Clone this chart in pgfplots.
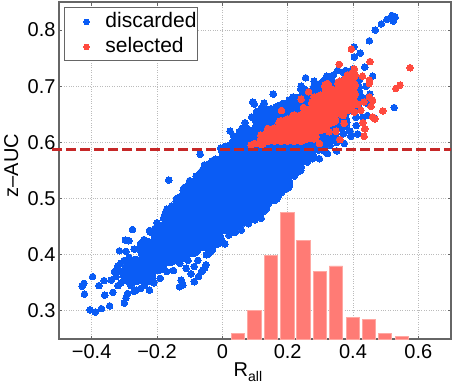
\documentclass[border=0pt]{standalone}
\usepackage{pgfplots}
\pgfplotsset{compat=1.18}
\usepackage{fontspec}
\setmainfont{Liberation Sans}
\definecolor{bluept}{HTML}{0A5CF5}
\definecolor{redpt}{HTML}{FF4A3F}
\definecolor{axgray}{HTML}{666666}
\definecolor{gridgray}{HTML}{BBBBBB}
\definecolor{thr}{HTML}{C62828}
\definecolor{barfill}{HTML}{FF7B75}
\definecolor{baredge}{HTML}{FFA8A2}
\begin{document}
\begin{tikzpicture}
\path[use as bounding box] (0,0) rectangle (454pt,391pt);
\begin{axis}[
  at={(59pt,52pt)}, anchor=south west,
  scale only axis, width=392pt, height=337pt,
  xmin=-0.5, xmax=0.7, ymin=0.25, ymax=0.85,
  xtick={-0.4,-0.2,0,0.2,0.4,0.6},
  xticklabels={−0.4,−0.2,0,0.2,0.4,0.6},
  ytick={0.3,0.4,0.5,0.6,0.7,0.8},
  yticklabels={0.3,0.4,0.5,0.6,0.7,0.8},
  tick label style={font=\fontsize{20}{22}\selectfont, text=black},
  xticklabel style={yshift=-2pt},
  grid=major,
  grid style={gridgray, dotted, line width=0.9pt},
  axis line style={axgray, line width=1.1pt},
  tick style={axgray, line width=0.9pt},
  tick align=inside, major tick length=3.5pt,
  xlabel={R\raisebox{-5pt}{\fontsize{14}{14}\selectfont all}},
  ylabel={z–AUC},
  label style={font=\fontsize{20}{22}\selectfont},
  xlabel style={at={(axis description cs:0.482,-0.098)},anchor=center},
  ylabel style={at={(axis description cs:-0.122,0.515)},anchor=center},
  legend image code/.code={\path[draw=none,fill=none] (0pt,-5pt) rectangle (40pt,5pt); \draw[#1] plot coordinates {(22pt,0pt)};},
  legend style={at={(axis description cs:0.0128,0.984)},anchor=north west,
    draw=axgray, line width=0.9pt, font=\fontsize{21}{23}\selectfont,
    inner xsep=0pt, inner ysep=1.5pt, row sep=0pt, cells={anchor=west},
    nodes={inner xsep=1pt, inner ysep=1pt, text height=17.5pt, text depth=5.5pt}},
]
\addlegendimage{only marks, color=bluept, mark=*, mark size=2.8pt, mark options={solid, draw=bluept, fill=bluept, line width=0pt}}
\addlegendentry{discarded\hspace{4pt}}
\addlegendimage{only marks, color=redpt, mark=*, mark size=2.8pt, mark options={solid, draw=redpt, fill=redpt, line width=0pt}}
\addlegendentry{selected}
% blue: dense core
\addplot[forget plot, only marks, color=bluept, mark=*, mark size=8.5pt, mark options={draw=bluept, fill=bluept, line width=0pt}] coordinates {
(-.285,.362)(-.285,.37)
(-.265,.362)(-.265,.382)
(-.23,.362)(-.23,.382)(-.23,.402)(-.23,.414)
(-.195,.382)(-.195,.402)(-.195,.422)(-.195,.44)
(-.16,.396)(-.16,.416)(-.16,.436)(-.16,.456)(-.16,.47)
(-.125,.402)(-.125,.422)(-.125,.442)(-.125,.462)(-.125,.482)(-.125,.494)
(-.09,.412)(-.09,.432)(-.09,.452)(-.09,.472)(-.09,.492)(-.09,.512)(-.09,.52)
(-.055,.422)(-.055,.442)(-.055,.462)(-.055,.482)(-.055,.502)(-.055,.522)(-.055,.54)
(-.02,.428)(-.02,.448)(-.02,.468)(-.02,.488)(-.02,.508)(-.02,.528)(-.02,.548)(-.02,.56)
(.015,.452)(.015,.472)(.015,.492)(.015,.512)(.015,.532)(.015,.552)(.015,.572)(.015,.584)
(.05,.462)(.05,.482)(.05,.502)(.05,.522)(.05,.542)(.05,.562)(.05,.582)(.05,.60)
(.085,.472)(.085,.492)(.085,.512)(.085,.532)(.085,.552)(.085,.572)(.085,.592)(.085,.612)
(.12,.486)(.12,.506)(.12,.526)(.12,.546)(.12,.566)(.12,.586)(.12,.606)(.12,.63)
(.155,.506)(.155,.526)(.155,.546)(.155,.566)(.155,.586)(.155,.606)(.155,.626)(.155,.648)
(.19,.526)(.19,.546)(.19,.566)(.19,.586)(.19,.606)(.19,.626)(.19,.646)(.19,.66)
(.225,.556)(.225,.576)(.225,.596)(.225,.616)(.225,.636)(.225,.656)(.225,.67)
(.26,.58)(.26,.60)(.26,.62)(.26,.64)(.26,.66)(.26,.682)
(.295,.596)(.295,.616)(.295,.636)(.295,.656)(.295,.676)(.295,.69)
(.33,.616)(.33,.636)(.33,.656)(.33,.676)(.33,.70)
(.365,.636)(.365,.656)(.365,.676)(.365,.70)
(.40,.666)(.40,.68)(.40,.70)
};
% blue: edge and outlying points
\addplot[forget plot, only marks, color=bluept, mark=*, mark size=3.3pt, mark options={draw=bluept, fill=bluept, line width=0pt}] coordinates {
(-.429,.344)(-.424,.349)(-.422,.33)(-.397,.361)(-.405,.302)(-.389,.298)(-.37,.304)(-.345,.309)
(-.36,.328)(-.378,.345)(-.362,.354)(-.33,.37)(-.325,.361)(-.335,.333)(-.30,.314)(-.295,.323)
(-.29,.331)(-.315,.407)(-.297,.426)(-.286,.425)(-.275,.445)(-.295,.406)(-.31,.385)(-.223,.337)
(-.264,.337)(-.164,.533)(-.17,.481)(-.068,.579)(-.223,.443)(-.131,.343)(-.121,.346)(-.126,.355)
(-.111,.376)(-.086,.379)(-.096,.366)(-.086,.352)(-.073,.361)(-.06,.373)(-.05,.382)(-.043,.401)
(-.03,.409)(-.116,.52)(-.055,.56)(.008,.419)(-.34,.355)(-.32,.345)(-.31,.35)(-.24,.345)
(-.054,.376)(-.064,.37)(-.049,.40)(-.034,.406)(.007,.42)(.058,.444)(.099,.462)(.119,.465)(.114,.471)
(.024,.62)(.034,.612)(.052,.619)(.077,.625)(.093,.672)(.098,.668)(.128,.670)(.12,.662)(.156,.686)
(.217,.681)(.241,.70)(.24,.695)(.255,.715)(.281,.709)(.319,.718)(.353,.728)(.334,.718)(.403,.77)
(.404,.752)(.422,.759)(.436,.734)(.46,.718)(.45,.781)(.468,.80)(.487,.811)(.504,.819)(.519,.826)
(.529,.823)(.523,.816)(.526,.662)(.452,.686)(.444,.648)(.465,.644)(.414,.615)(.393,.611)(.373,.598)
(.35,.585)(.322,.58)(.276,.571)(.297,.571)(.44,.675)(.424,.657)(.409,.645)(.419,.699)(.144,.657)
(.185,.663)(.205,.675)(.266,.687)(.30,.705)(.378,.728)(.399,.731)(.419,.711)(.444,.669)(.103,.63)
(-.32,.38)(-.31,.37)(-.30,.36)(-.30,.39)(-.285,.395)(-.27,.41)(-.25,.42)(-.255,.41)(-.28,.345)
(-.27,.335)(-.25,.34)(-.21,.35)(-.19,.358)(-.17,.37)(-.15,.372)(-.13,.385)(-.105,.39)(-.075,.39)
(-.24,.427)(-.22,.44)(-.20,.457)(-.18,.465)(-.155,.487)(-.14,.50)(-.12,.515)(-.10,.532)(-.08,.54)
(-.06,.552)(-.04,.562)(-.02,.57)(0,.58)(.01,.59)(-.005,.59)(.03,.60)(.06,.615)(.08,.62)(.1,.64)
(.11,.65)(.13,.65)(.15,.66)(.17,.665)(.195,.67)(.23,.68)(.25,.695)(.28,.70)(.31,.71)(.34,.72)(.37,.725)
(.14,.49)(.16,.50)(.18,.51)(.2,.525)(.22,.54)(.24,.55)(.26,.565)(.28,.575)(.31,.585)(.33,.595)(.35,.60)
(.37,.615)(.39,.62)(.41,.63)(.43,.645)(.43,.68)(.42,.69)(.44,.70)(.02,.435)(.04,.44)(.08,.455)
(.07,.635)(.09,.645)(.105,.655)(.135,.66)(.06,.625)(.2,.668)(.123,.652)(.164,.663)
};
% red: dense core
\addplot[forget plot, only marks, color=redpt, mark=*, mark size=5.5pt, mark options={draw=redpt, fill=redpt, line width=0pt}] coordinates {
(.12,.60)(.14,.606)(.14,.615)(.16,.606)(.16,.622)
(.18,.606)(.18,.622)(.18,.635)(.20,.606)(.20,.622)(.20,.638)
(.22,.606)(.22,.622)(.22,.638)(.22,.645)(.24,.606)(.24,.622)(.24,.638)(.24,.645)
(.26,.61)(.26,.626)(.26,.642)(.26,.655)(.28,.61)(.28,.626)(.28,.642)(.28,.658)(.28,.67)
(.30,.625)(.30,.641)(.30,.657)(.30,.673)(.30,.68)(.32,.635)(.32,.651)(.32,.667)(.32,.683)(.32,.70)
(.34,.64)(.34,.656)(.34,.672)(.34,.69)(.36,.655)(.36,.671)(.36,.687)(.36,.705)
(.38,.66)(.38,.676)(.38,.692)(.38,.71)(.40,.67)(.40,.686)(.40,.702)(.40,.72)
};
% red: edge and outlying points
\addplot[forget plot, only marks, color=redpt, mark=*, mark size=3.3pt, mark options={draw=redpt, fill=redpt, line width=0pt}] coordinates {
(.395,.766)(.358,.739)(.452,.744)(.575,.733)(.544,.702)(.531,.696)(.491,.656)(.467,.642)(.46,.645)
(.43,.635)(.436,.624)(.434,.611)(.36,.605)(.264,.690)(.241,.677)(.248,.662)(.181,.657)(.088,.595)
(.45,.681)(.46,.675)(.455,.664)(.434,.672)(.414,.668)(.424,.657)(.404,.654)(.45,.711)(.45,.705)
(.429,.718)(.404,.731)(.383,.72)(.322,.705)(.348,.62)(.373,.634)(.37,.648)(.327,.619)(.281,.681)
(.297,.598)(.139,.625)(.118,.613)(.098,.598)
};
% histogram
\addplot[forget plot, ybar, bar shift=0pt, bar width=0.0407, fill=barfill, draw=baredge, line width=0.8pt] coordinates {
(.0475,.26)(.098,.3005)(.148,.399)(.199,.4756)(.248,.426)(.299,.3706)(.348,.38)(.399,.289)(.448,.285)(.4985,.26)(.549,.254)
};
\end{axis}
\begin{axis}[
  at={(59pt,52pt)}, anchor=south west,
  scale only axis, width=392pt, height=337pt,
  xmin=-0.5, xmax=0.7, ymin=0.25, ymax=0.85,
  hide axis, clip=false,
]
\addplot[thr, line width=3pt, dash pattern=on 10pt off 4pt] coordinates {(-.522,.588)(.7,.588)};
\end{axis}
\end{tikzpicture}
\end{document}
